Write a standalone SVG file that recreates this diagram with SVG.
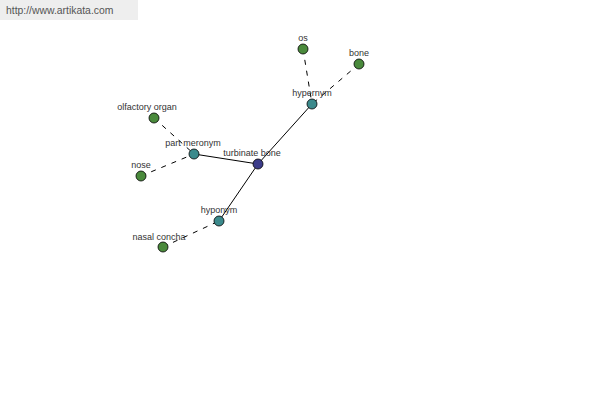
<svg xmlns="http://www.w3.org/2000/svg" width="600" height="400" viewBox="0 0 600 400">
<style>
.lbl{font-family:"Liberation Sans",Arial,sans-serif;font-size:9px;fill:#333;text-anchor:middle}
.s{stroke:#000;stroke-width:1;fill:none}
.d{stroke:#000;stroke-width:1;fill:none;stroke-dasharray:5,6}
.n{stroke:#000;stroke-width:0.8}
.g{fill:#4a8a3c}
.t{fill:#3c8a8c}
.b{fill:#3c3c8a}
</style>
<rect width="600" height="400" fill="#fff"/>
<rect x="0" y="0" width="138" height="20" fill="#eeeeee"/>
<text x="6" y="14" style="font-family:'Liberation Sans',Arial,sans-serif;font-size:10.4px;fill:#555">http://www.artikata.com</text>
<g id="connectors">
<line class="s" x1="312" y1="104" x2="258" y2="164"/>
<line class="s" x1="194" y1="154" x2="258" y2="164"/>
<line class="s" x1="219" y1="221" x2="258" y2="164"/>
<line class="d" x1="303" y1="49" x2="312" y2="104"/>
<line class="d" x1="359" y1="64" x2="312" y2="104"/>
<line class="d" x1="154" y1="118" x2="194" y2="154"/>
<line class="d" x1="141" y1="176" x2="194" y2="154"/>
<line class="d" x1="163" y1="247" x2="219" y2="221"/>
</g>
<g id="os"><circle class="n g" cx="303" cy="49" r="5"/><text class="lbl" x="303" y="41">os</text></g>
<g id="bone"><circle class="n g" cx="359" cy="64" r="5"/><text class="lbl" x="359" y="56">bone</text></g>
<g id="hypernym"><circle class="n t" cx="312" cy="104" r="5"/><text class="lbl" x="312" y="96">hypernym</text></g>
<g id="olfactory-organ"><circle class="n g" cx="154" cy="118" r="5"/><text class="lbl" x="147" y="110">olfactory organ</text></g>
<g id="part-meronym"><circle class="n t" cx="194" cy="154" r="5"/><text class="lbl" x="193" y="146">part meronym</text></g>
<g id="turbinate-bone"><circle class="n b" cx="258" cy="164" r="5"/><text class="lbl" x="252" y="156">turbinate bone</text></g>
<g id="nose"><circle class="n g" cx="141" cy="176" r="5"/><text class="lbl" x="141" y="168">nose</text></g>
<g id="hyponym"><circle class="n t" cx="219" cy="221" r="5"/><text class="lbl" x="219" y="213">hyponym</text></g>
<g id="nasal-concha"><circle class="n g" cx="163" cy="247" r="5"/><text class="lbl" x="159" y="240">nasal concha</text></g>
</svg>
